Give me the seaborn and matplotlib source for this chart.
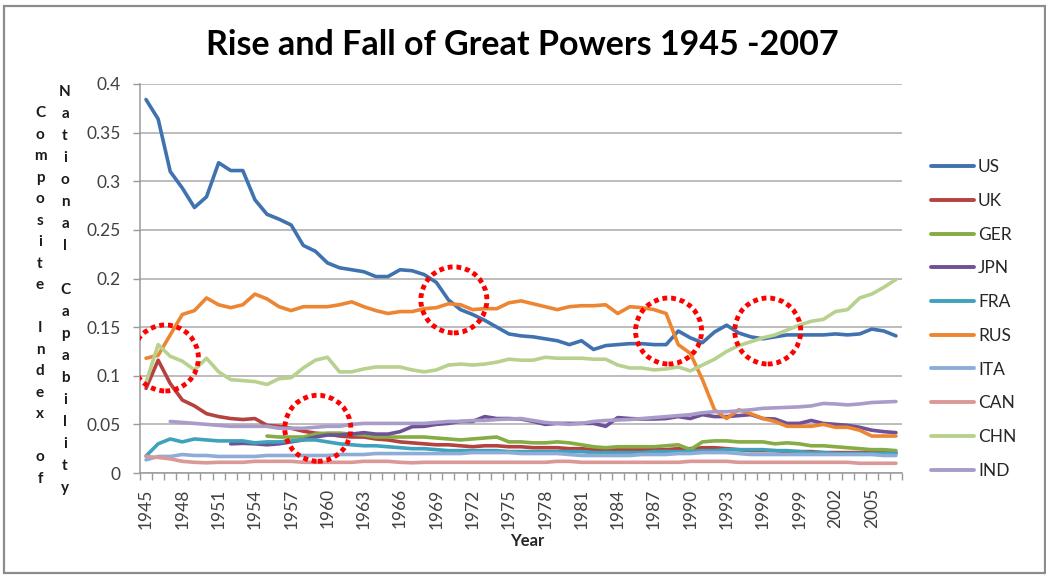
import numpy as np
import pandas as pd
import matplotlib
matplotlib.use("Agg")
import matplotlib.pyplot as plt
import seaborn as sns
from matplotlib.patches import Ellipse, Rectangle
from matplotlib.ticker import FixedLocator

# ---------------- data ----------------
years = list(range(1945, 2008))

US = [0.384, 0.364, 0.310, 0.293, 0.273,
      0.284, 0.319, 0.311, 0.311, 0.281, 0.266, 0.261, 0.255, 0.234, 0.228,
      0.216, 0.211, 0.209, 0.207, 0.202, 0.202, 0.209, 0.208, 0.204, 0.196,
      0.178, 0.168, 0.163, 0.157, 0.150, 0.143, 0.141, 0.140, 0.138, 0.136,
      0.132, 0.136, 0.127, 0.131, 0.132, 0.133, 0.133, 0.132, 0.132, 0.146,
      0.139, 0.134, 0.145, 0.152, 0.144, 0.140, 0.138, 0.140, 0.142, 0.142,
      0.142, 0.142, 0.143, 0.142, 0.143, 0.148, 0.146, 0.141]

UK = [0.087, 0.116, 0.092, 0.075, 0.069,
      0.061, 0.058, 0.056, 0.055, 0.056, 0.049, 0.048, 0.046, 0.043, 0.041,
      0.040, 0.038, 0.037, 0.037, 0.035, 0.034, 0.032, 0.031, 0.030, 0.029,
      0.029, 0.028, 0.027, 0.028, 0.028, 0.027, 0.027, 0.026, 0.026, 0.026,
      0.025, 0.025, 0.024, 0.024, 0.024, 0.024, 0.024, 0.024, 0.024, 0.025,
      0.025, 0.026, 0.026, 0.025, 0.024, 0.023, 0.023, 0.023, 0.022, 0.022,
      0.022, 0.021, 0.021, 0.021, 0.021, 0.021, 0.021, 0.021]

GER = [None] * 10 + [
      0.038, 0.037, 0.037, 0.037, 0.040,
      0.041, 0.041, 0.040, 0.039, 0.037, 0.037, 0.037, 0.037, 0.037, 0.036,
      0.035, 0.034, 0.035, 0.036, 0.037, 0.032, 0.032, 0.031, 0.031, 0.032,
      0.031, 0.029, 0.027, 0.026, 0.027, 0.027, 0.027, 0.027, 0.028, 0.029,
      0.024, 0.032, 0.033, 0.033, 0.032, 0.032, 0.032, 0.030, 0.031, 0.030,
      0.028, 0.028, 0.027, 0.026, 0.025, 0.024, 0.024, 0.023]

JPN = [None] * 7 + [
      0.030, 0.0305, 0.030, 0.029, 0.030, 0.032, 0.034, 0.037, 0.039, 0.039,
      0.040, 0.0415, 0.040, 0.040, 0.0425, 0.0476, 0.048, 0.050, 0.051, 0.053,
      0.053, 0.058, 0.056, 0.056, 0.0555, 0.053, 0.050, 0.051, 0.051, 0.051,
      0.051, 0.048, 0.057, 0.056, 0.0555, 0.0555, 0.056, 0.058, 0.056, 0.060,
      0.058, 0.058, 0.059, 0.060, 0.056, 0.0555, 0.051, 0.051, 0.054, 0.051,
      0.050, 0.049, 0.047, 0.044, 0.0425, 0.0415]

FRA = [0.0175, 0.030, 0.035, 0.032, 0.035,
       0.034, 0.033, 0.033, 0.033, 0.031, 0.032, 0.032, 0.033, 0.034, 0.034,
       0.032, 0.030, 0.029, 0.028, 0.028, 0.027, 0.026, 0.025, 0.025, 0.024,
       0.023, 0.023, 0.023, 0.023, 0.023, 0.022, 0.022, 0.022, 0.022, 0.022,
       0.022, 0.022, 0.021, 0.021, 0.021, 0.021, 0.021, 0.022, 0.022, 0.022,
       0.022, 0.023, 0.023, 0.024, 0.024, 0.024, 0.024, 0.023, 0.023, 0.022,
       0.021, 0.021, 0.020, 0.020, 0.020, 0.020, 0.020, 0.020]

RUS = [0.118, 0.121, 0.142, 0.163, 0.167,
       0.180, 0.173, 0.170, 0.173, 0.184, 0.179, 0.171, 0.167, 0.171, 0.171,
       0.171, 0.173, 0.176, 0.171, 0.167, 0.164, 0.166, 0.166, 0.169, 0.170,
       0.174, 0.173, 0.168, 0.169, 0.169, 0.175, 0.177, 0.174, 0.171, 0.168,
       0.171, 0.172, 0.172, 0.173, 0.164, 0.171, 0.170, 0.168, 0.164, 0.132,
       0.123, 0.096, 0.065, 0.056, 0.065, 0.061, 0.056, 0.053, 0.048, 0.048,
       0.048, 0.050, 0.047, 0.047, 0.044, 0.038, 0.038, 0.038]

ITA = [0.0135, 0.017, 0.017, 0.019, 0.018,
       0.018, 0.017, 0.017, 0.017, 0.017, 0.018, 0.018, 0.018, 0.018, 0.018,
       0.018, 0.019, 0.019, 0.019, 0.020, 0.020, 0.020, 0.020, 0.020, 0.020,
       0.020, 0.020, 0.021, 0.021, 0.021, 0.021, 0.020, 0.020, 0.020, 0.020,
       0.019, 0.018, 0.018, 0.018, 0.018, 0.018, 0.019, 0.019, 0.019, 0.020,
       0.020, 0.021, 0.021, 0.021, 0.020, 0.019, 0.019, 0.019, 0.019, 0.019,
       0.019, 0.019, 0.019, 0.019, 0.019, 0.019, 0.018, 0.018]

CAN = [0.017, 0.016, 0.0145, 0.012, 0.011,
       0.0105, 0.011, 0.011, 0.011, 0.012, 0.012, 0.012, 0.012, 0.011, 0.011,
       0.011, 0.011, 0.011, 0.012, 0.012, 0.012, 0.011, 0.0105, 0.011, 0.011,
       0.011, 0.011, 0.011, 0.011, 0.011, 0.011, 0.011, 0.011, 0.011, 0.012,
       0.012, 0.011, 0.011, 0.011, 0.011, 0.011, 0.011, 0.011, 0.011, 0.011,
       0.012, 0.012, 0.012, 0.012, 0.011, 0.011, 0.011, 0.011, 0.011, 0.011,
       0.011, 0.011, 0.011, 0.011, 0.010, 0.010, 0.010, 0.010]

CHN = [0.093, 0.132, 0.120, 0.115, 0.106,
       0.118, 0.104, 0.096, 0.095, 0.094, 0.091, 0.097, 0.098, 0.108, 0.116,
       0.119, 0.104, 0.104, 0.107, 0.109, 0.109, 0.109, 0.106, 0.104, 0.106,
       0.111, 0.112, 0.111, 0.112, 0.114, 0.117, 0.116, 0.116, 0.119, 0.118,
       0.118, 0.118, 0.117, 0.117, 0.111, 0.108, 0.108, 0.106, 0.107, 0.109,
       0.105, 0.111, 0.117, 0.125, 0.131, 0.135, 0.139, 0.142, 0.147, 0.152,
       0.156, 0.158, 0.166, 0.168, 0.180, 0.184, 0.191, 0.199]

IND = [None] * 2 + [
       0.053, 0.052, 0.051,
       0.050, 0.049, 0.048, 0.048, 0.048, 0.048, 0.046, 0.046, 0.046, 0.047,
       0.048, 0.048, 0.050, 0.051, 0.051, 0.051, 0.051, 0.051, 0.051, 0.052,
       0.053, 0.053, 0.054, 0.054, 0.055, 0.0555, 0.056, 0.054, 0.052, 0.051,
       0.050, 0.051, 0.053, 0.054, 0.0545, 0.055, 0.056, 0.057, 0.058, 0.059,
       0.060, 0.062, 0.063, 0.063, 0.064, 0.065, 0.0665, 0.067, 0.0675, 0.068,
       0.069, 0.0715, 0.071, 0.070, 0.071, 0.0725, 0.073, 0.0735]

countries = ["US", "UK", "GER", "JPN", "FRA", "RUS", "ITA", "CAN", "CHN", "IND"]
series = [US, UK, GER, JPN, FRA, RUS, ITA, CAN, CHN, IND]
colors = ["#3F72AF", "#B5423F", "#86AC46", "#6F5197", "#3FA2BD",
          "#EC8633", "#8DADD8", "#DA9896", "#B8D18F", "#AA9CC8"]

ytick_values = [0, 0.05, 0.1, 0.15, 0.2, 0.25, 0.3, 0.35, 0.4]
ytick_labels = ["0", "0.05", "0.1", "0.15", "0.2", "0.25", "0.3", "0.35", "0.4"]
xtick_years = years[::3]

# highlighted regions (year, value) of the red dotted circles
circle_centers = [(1946.6, 0.1183), (1959.2, 0.046), (1970.45, 0.178),
                  (1988.2, 0.146), (1996.4, 0.146)]

title = "Rise and Fall of Great Powers 1945 -2007"
ylabel_col1 = "Composite Index of"
ylabel_col2 = "National Capability"

# ---------------- build long table ----------------
rows = []
for name, vals in zip(countries, series):
    for yr, v in zip(years, vals):
        if v is not None:
            rows.append({"Year": yr, "value": v, "country": name})
df = pd.DataFrame(rows)

# ---------------- figure ----------------
sns.set_theme(style="white")
plt.rcParams["font.family"] = ["Lato", "DejaVu Sans"]

W, H = 1046, 575
fig = plt.figure(figsize=(W / 100, H / 100), dpi=100)
ax = fig.add_axes([140 / W, 1 - 473 / H, 762 / W, 389 / H])

sns.lineplot(data=df, x="Year", y="value", hue="country", hue_order=countries,
             palette=dict(zip(countries, colors)), estimator=None,
             errorbar=None, linewidth=2.6, ax=ax, legend=True)

ax.set_xlim(years[0] - 0.5, years[-1] + 0.5)
ax.set_ylim(0, 0.4)

# grid
ax.yaxis.set_major_locator(FixedLocator(ytick_values))
ax.set_yticklabels(ytick_labels)
ax.grid(axis="y", color="#A9A9A9", linewidth=1.1)
ax.grid(axis="x", visible=False)
ax.set_axisbelow(True)

for s in ["top", "right"]:
    ax.spines[s].set_visible(False)
for s in ["left", "bottom"]:
    ax.spines[s].set_color("#9A9A9A")
    ax.spines[s].set_linewidth(1.1)

ax.tick_params(axis="y", direction="out", length=5, width=1, color="#9A9A9A",
               labelcolor="#404040", labelsize=12.5, pad=9, left=True)
ax.xaxis.set_major_locator(FixedLocator(xtick_years))
ax.set_xticklabels([str(y) for y in xtick_years], rotation=90)
ax.xaxis.set_minor_locator(FixedLocator([y - 0.5 for y in years] + [years[-1] + 0.5]))
ax.tick_params(axis="x", which="major", length=0, labelsize=12.5,
               labelcolor="#404040", pad=11, bottom=True)
ax.tick_params(axis="x", which="minor", direction="out", length=5, width=1,
               color="#9A9A9A", bottom=True)

ax.set_xlabel("")
ax.set_ylabel("")

# red dotted circles
rx = 2 * 33 / (762 / 63)
ry = 2 * 33 / (389 / 0.4)
for (cx, cy) in circle_centers:
    e = Ellipse((cx, cy), rx, ry, fill=False, edgecolor="#FF0000",
                linewidth=3.5, linestyle=(0, (1, 0.8)), zorder=10)
    ax.add_patch(e)

# legend
handles, labels = ax.get_legend_handles_labels()
ax.get_legend().remove()
for h in handles:
    h.set_linewidth(2.8)
leg = fig.legend(handles, labels, loc="center left",
                 bbox_to_anchor=(931 / W, 1 - 319 / H), frameon=False,
                 fontsize=12.5, handlelength=2.5, handletextpad=0.2,
                 labelspacing=1.02, borderpad=0, borderaxespad=0)
for t in leg.get_texts():
    t.set_color("#262626")

# title
fig.text(522 / W, 1 - 45 / H, title, ha="center", va="center",
         fontsize=24.5, fontweight="bold", color="black")

# x label
fig.text(527 / W, 1 - 541 / H, "Year", ha="center", va="center",
         fontsize=12, fontweight="bold", color="#262626")

# stacked vertical y label (two columns)
for i, ch in enumerate(ylabel_col1):
    fig.text(40 / W, 1 - (113.3 + i * 21.5) / H, ch, ha="center", va="center",
             fontsize=11, fontweight="bold", color="#1a1a1a")
for i, ch in enumerate(ylabel_col2):
    fig.text(65 / W, 1 - (91.7 + i * 22.0) / H, ch, ha="center", va="center",
             fontsize=11, fontweight="bold", color="#1a1a1a")

# outer border
fig.add_artist(Rectangle((4 / W, 2 / H), 1041 / W, 567 / H, transform=fig.transFigure,
                         fill=False, edgecolor="#8C8C8C", linewidth=1.6))

fig.savefig("out.png", dpi=100)
